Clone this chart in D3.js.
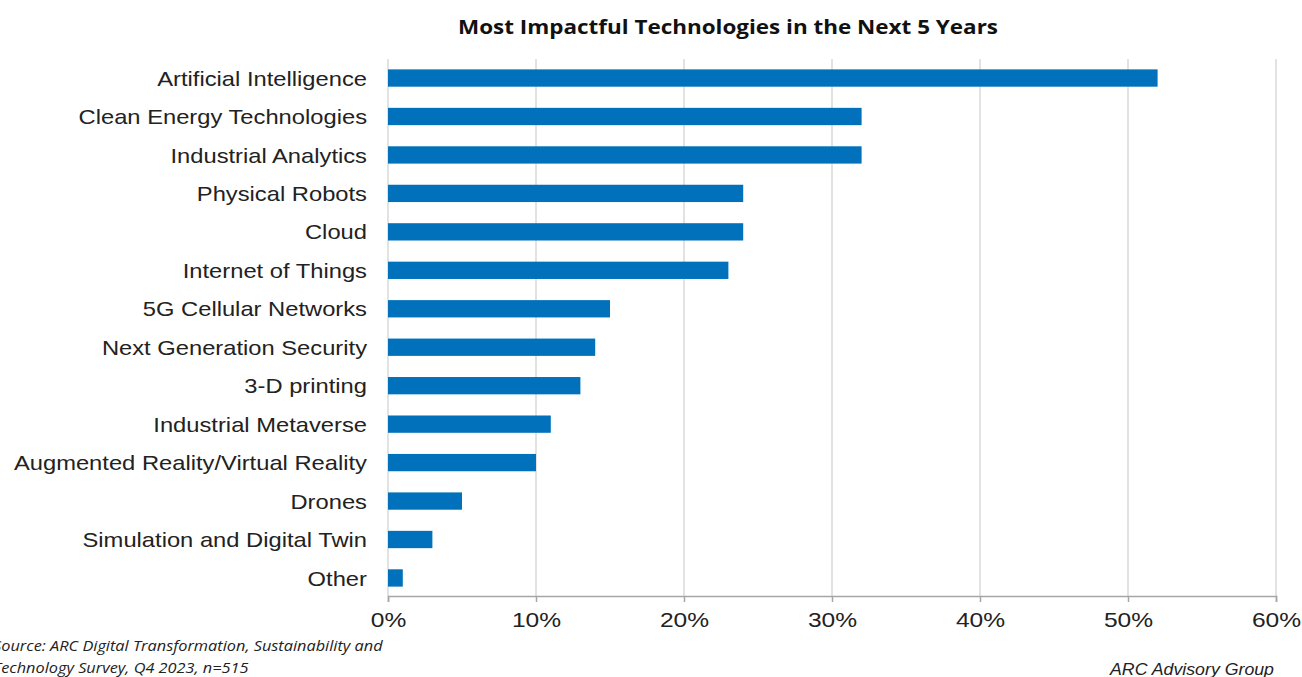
<!DOCTYPE html>
<html><head><meta charset="utf-8">
<script src="https://cdn.jsdelivr.net/npm/d3@7"></script>
<style>body{margin:0;background:#fff}svg{display:block}</style>
</head><body>
<script>
const categories = ["Artificial Intelligence","Clean Energy Technologies","Industrial Analytics","Physical Robots","Cloud","Internet of Things","5G Cellular Networks","Next Generation Security","3-D printing","Industrial Metaverse","Augmented Reality/Virtual Reality","Drones","Simulation and Digital Twin","Other"];
const values = [52,32,32,24,24,23,15,14,13,11,10,5,3,1];
const ticks = [0,10,20,30,40,50,60];
const title = "Most Impactful Technologies in the Next 5 Years";
const sourceLines = ["Source: ARC Digital Transformation, Sustainability and","Technology Survey, Q4 2023, n=515"];
const credit = "ARC Advisory Group";

const W=1302,H=677;
const svg=d3.select("body").append("svg").attr("width",W).attr("height",H);
const x=d3.scaleLinear().domain([0,60]).range([388,1276]);
const y=d3.scaleBand().domain(categories).range([59,597]).paddingInner(0.55).paddingOuter(0.27);

function stretch(sel,sx){sel.each(function(){const L=this.getComputedTextLength();d3.select(this).attr("textLength",L*sx).attr("lengthAdjust","spacingAndGlyphs");});}

svg.append("text").attr("x",728).attr("y",34).attr("text-anchor","middle")
 .attr("font-family","Open Sans").attr("font-weight","bold").attr("font-size",20).attr("fill","#111")
 .attr("textLength",540).attr("lengthAdjust","spacingAndGlyphs").text(title);

svg.append("g").selectAll("line").data(ticks).join("line")
 .attr("x1",d=>x(d)).attr("x2",d=>x(d)).attr("y1",59).attr("y2",596)
 .attr("stroke","#d9d9d9").attr("stroke-width",1.5);

svg.append("g").selectAll("rect").data(values).join("rect")
 .attr("x",x(0)).attr("y",(d,i)=>y(categories[i])).attr("height",y.bandwidth())
 .attr("width",d=>x(d)-x(0)).attr("fill","#0071ba");

const ax=svg.append("g").attr("transform","translate(0,596)")
 .call(d3.axisBottom(x).tickValues(ticks).tickFormat(d=>d+"%").tickSize(6).tickPadding(10));
ax.select(".domain").attr("stroke","#a6a6a6").attr("stroke-width",1.5);
ax.selectAll(".tick line").attr("stroke","#a6a6a6").attr("stroke-width",1.5);
const tt=ax.selectAll(".tick text").attr("font-family","Liberation Sans").attr("font-size",21).attr("fill","#222");
stretch(tt,1.17);

const lab=svg.append("g").selectAll("text").data(categories).join("text")
 .attr("x",367).attr("y",d=>y(d)+y.bandwidth()/2).attr("dy","0.36em").attr("text-anchor","end")
 .attr("font-family","Liberation Sans").attr("font-size",21).attr("fill","#222").text(d=>d);
stretch(lab,1.13);

const src=svg.append("g").selectAll("text").data(sourceLines).join("text")
 .attr("x",-7).attr("y",(d,i)=>651+i*22).attr("font-family","Open Sans").attr("font-style","italic")
 .attr("font-size",14).attr("fill","#222").text(d=>d);
stretch(src,1.165);

svg.append("text").attr("x",1274).attr("y",675).attr("text-anchor","end")
 .attr("font-family","Liberation Sans").attr("font-style","italic").attr("font-size",16).attr("fill","#222")
 .attr("textLength",164).attr("lengthAdjust","spacingAndGlyphs").text(credit);
</script>
</body></html>
